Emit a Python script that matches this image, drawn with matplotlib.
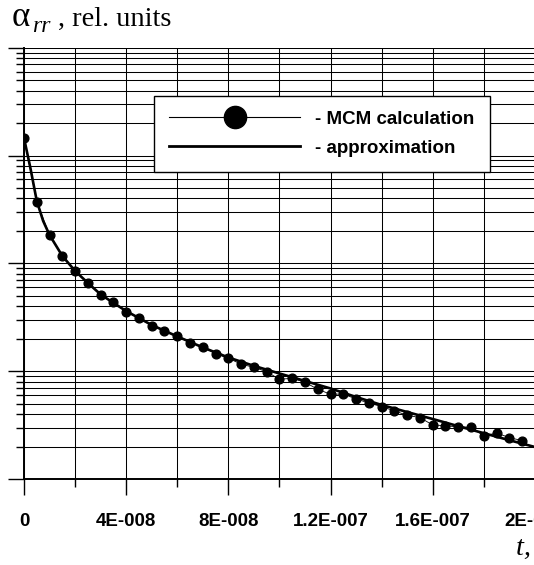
import matplotlib
matplotlib.use('Agg')
import matplotlib.pyplot as plt
import numpy as np
from matplotlib.lines import Line2D
from matplotlib.ticker import LogLocator, NullFormatter, FixedLocator, FixedFormatter, MultipleLocator

# MCM calculation, time in ns
mcm_t_ns = [0, 5, 10, 15, 20, 25, 30, 35, 40, 45, 50, 55, 60, 65, 70, 75, 80, 85, 90, 95,
            100, 105, 110, 115, 120, 125, 130, 135, 140, 145, 150, 155, 160, 165, 170, 175, 180, 185, 190, 195]
mcm_val = [0.1466, 0.0373, 0.01829, 0.01167, 0.00855, 0.00653, 0.00509, 0.00435, 0.00356, 0.00311,
           0.00264, 0.00236, 0.00211, 0.00184, 0.00169, 0.00145, 0.00132, 0.00116, 0.001086, 0.000989,
           0.000841, 0.000859, 0.000789, 0.000679, 0.000611, 0.000614, 0.000552, 0.000507, 0.000469, 0.000428,
           0.000390, 0.000371, 0.000317, 0.000312, 0.000304, 0.000302, 0.000251, 0.000267, 0.000242, 0.000227]

# approximation curve
appr_t_ns = [0, 2.5, 5, 7.5, 10, 15, 20, 25, 30, 35, 40, 50, 60, 70, 80, 90, 100,
             110, 120, 130, 140, 150, 160, 170, 180, 190, 200, 210, 220]
appr_val = [0.1455, 0.0767, 0.0379, 0.0247, 0.01832, 0.01172, 0.00850, 0.00658, 0.00515, 0.00430,
            0.00361, 0.00268, 0.00210, 0.00166, 0.00134, 0.00112, 0.000952, 0.000811, 0.000691, 0.000576,
            0.000486, 0.000418, 0.000360, 0.000309, 0.000266, 0.000229, 0.000198, 0.000172, 0.000150]

x_ticks = [0, 4e-8, 8e-8, 1.2e-7, 1.6e-7, 2e-7]
x_labels = ['0', '4E-008', '8E-008', '1.2E-007', '1.6E-007', '2E-007']

W, H = 534, 565
fig = plt.figure(figsize=(W / 100, H / 100), dpi=100)
ax = fig.add_axes([24 / W, 86 / H, 562 / W, 431.3 / H])

mcm_t = np.array(mcm_t_ns) * 1e-9
appr_t = np.array(appr_t_ns) * 1e-9

ax.plot(appr_t, appr_val, color='black', lw=1.9, zorder=3)
ax.plot(mcm_t, mcm_val, color='black', lw=0.6, marker='o', ms=6.3, zorder=4)

ax.set_yscale('log')
ax.set_ylim(1e-4, 1)
ax.set_xlim(0, 2.2e-7)

ax.yaxis.set_major_locator(LogLocator(base=10))
ax.yaxis.set_minor_locator(LogLocator(base=10, subs=np.arange(2, 10)))
ax.yaxis.set_major_formatter(NullFormatter())
ax.yaxis.set_minor_formatter(NullFormatter())

ax.xaxis.set_major_locator(FixedLocator(x_ticks))
ax.xaxis.set_major_formatter(FixedFormatter(x_labels))
ax.xaxis.set_minor_locator(MultipleLocator(2e-8))

ax.grid(True, which='both', color='black', lw=0.75)
ax.set_axisbelow(True)
for s in ['top', 'right']:
    ax.spines[s].set_visible(False)
for s in ['left', 'bottom']:
    ax.spines[s].set_linewidth(1.4)

ax.tick_params(which='major', direction='out', length=11.5, width=1.0, pad=13)
ax.tick_params(which='minor', direction='out', length=5.8, width=1.0)
for lab in ax.get_xticklabels():
    lab.set_fontfamily('Liberation Sans')
    lab.set_fontweight('bold')
    lab.set_fontsize(13.5)

handles = [Line2D([], [], color='black', lw=0.8, marker='o', ms=16),
           Line2D([], [], color='black', lw=2.0)]
leg = ax.legend(handles, ['- MCM calculation', '- approximation'],
                loc='upper left', bbox_to_anchor=(154 / W, 1 - 95.7 / H),
                bbox_transform=fig.transFigure, borderaxespad=0,
                prop={'family': 'Liberation Sans', 'weight': 'bold', 'size': 13.5},
                handlelength=7.0, handletextpad=0.8, borderpad=0.8, labelspacing=0.62,
                fancybox=False, framealpha=1, edgecolor='black')
leg.get_frame().set_linewidth(1.0)
leg.set_zorder(10)

serif = 'Liberation Serif'
fig.text(12 / W, 1 - 26 / H, 'α', fontfamily=serif, fontsize=25, va='baseline')
fig.text(32 / W, 1 - 32 / H, 'rr', fontfamily=serif, fontstyle='italic', fontsize=17, va='baseline')
fig.text(58 / W, 1 - 26 / H, ', rel. units', fontfamily=serif, fontsize=20.5, va='baseline')
fig.text(516 / W, 1 - 555 / H, 't, s', fontfamily=serif, fontstyle='italic', fontsize=20.5, va='baseline')

fig.savefig('out.png', dpi=100)
